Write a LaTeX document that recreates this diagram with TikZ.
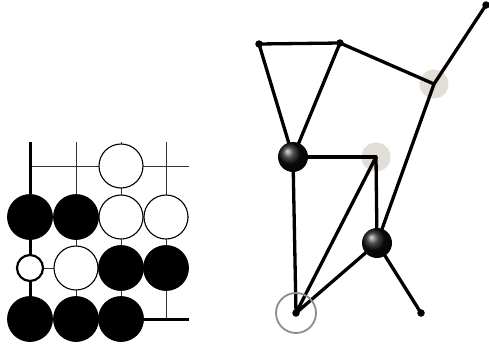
\documentclass[tikz,border=0pt]{standalone}
\usetikzlibrary{shadings}
\pgfdeclarelayer{bottom}
\pgfdeclarelayer{background}
\pgfsetlayers{bottom,background,main}
\definecolor{ghostgray}{RGB}{226,221,215}
\tikzset{
  bstone/.style={circle,fill=black,draw=black,line width=0.8pt,minimum size=45pt,inner sep=0pt},
  wstone/.style={circle,fill=white,draw=black,line width=1.1pt,minimum size=44pt,inner sep=0pt},
  swstone/.style={circle,fill=white,draw=black,line width=2.2pt,minimum size=26pt,inner sep=0pt},
  thin grid/.style={line width=1pt,draw=black!80},
  thick grid/.style={line width=3pt,draw=black},
  ball/.style={circle,shading=ball,ball color=black!95,minimum size=30pt,inner sep=0pt},
  ghost/.style={circle,fill=ghostgray,minimum size=29pt,inner sep=0pt},
  dot/.style={circle,fill=black,minimum size=7.5pt,inner sep=0pt},
  ring/.style={circle,draw=black!45,line width=1.8pt,minimum size=40pt,inner sep=0pt},
  edge/.style={line width=3.3pt,line cap=round,draw=black}
}
\begin{document}
\begin{tikzpicture}[x=1pt,y=-1pt]
\useasboundingbox (0,0) rectangle (489,343);
% ---------- Go board ----------
\foreach \x in {76,121,166} \draw[thin grid] (\x,142) -- (\x,319);
\foreach \y in {166,217,268} \draw[thin grid] (30,\y) -- (189,\y);
\draw[thick grid] (30,142) -- (30,319) -- (189,319);
\node[wstone] (w13) at (121,166) {};
\node[bstone] (b21) at (30,217) {};
\node[bstone] (b22) at (76,217) {};
\node[wstone] (w23) at (121,217) {};
\node[wstone] (w24) at (166,217) {};
\node[swstone] (w31) at (30,268) {};
\node[wstone] (w32) at (76,268) {};
\node[bstone] (b33) at (121,268) {};
\node[bstone] (b34) at (166,268) {};
\node[bstone] (b41) at (30,319) {};
\node[bstone] (b42) at (76,319) {};
\node[bstone] (b43) at (121,319) {};
% ---------- Graph ----------
\begin{pgfonlayer}{bottom}
\node[ghost] (D) at (434,84) {};
\node[ghost] (F) at (376,157) {};
\end{pgfonlayer}
\node[dot] (A) at (259,44) {};
\node[dot] (B) at (340,43) {};
\node[dot] (C) at (486,5) {};
\node[ball] (E) at (293,157) {};
\node[ball] (G) at (377,243) {};
\node[ring] (H) at (296,313) {};
\node[dot] (Hd) at (296,313) {};
\node[dot] (I) at (421,313) {};
\begin{pgfonlayer}{background}
\draw[edge] (A.center) -- (B.center);
\draw[edge] (A.center) -- (E.center);
\draw[edge] (B.center) -- (E.center);
\draw[edge] (B.center) -- (D.center);
\draw[edge] (D.center) -- (C.center);
\draw[edge] (D.center) -- (G.center);
\draw[edge] (E.center) -- (F.center);
\draw[edge] (F.center) -- (G.center);
\draw[edge] (E.center) -- (H.center);
\draw[edge] (F.center) -- (H.center);
\draw[edge] (G.center) -- (H.center);
\draw[edge] (G.center) -- (I.center);
\end{pgfonlayer}
\end{tikzpicture}
\end{document}
